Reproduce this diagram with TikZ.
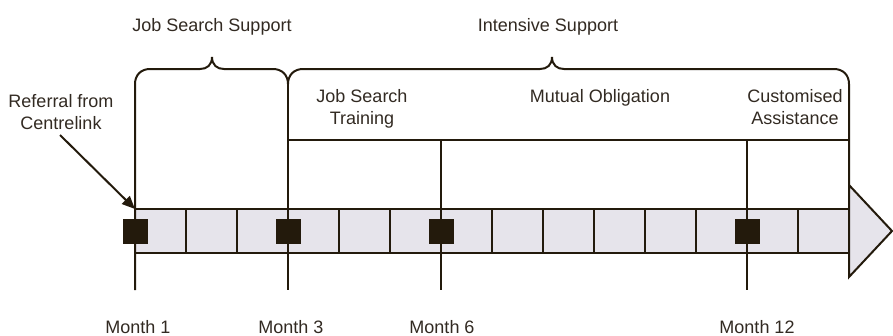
\documentclass[tikz,border=0pt]{standalone}
\usepackage{fontspec}
\setmainfont{Liberation Sans}
\usetikzlibrary{arrows.meta}
\definecolor{ink}{RGB}{35,26,12}
\definecolor{txt}{RGB}{50,42,34}
\definecolor{barfill}{RGB}{230,228,235}
\tikzset{
  lbl/.style={font=\fontsize{18}{22}\selectfont, text=txt, inner sep=0pt, anchor=base, align=center},
  ln/.style={draw=ink, line width=2pt},
  sq/.style={fill=ink, draw=none, minimum size=25pt, inner sep=0pt},
}
\begin{document}
\begin{tikzpicture}[x=1pt,y=-1pt]
\useasboundingbox (0,0) rectangle (893,335);
% bar and arrow head
\path[ln, fill=barfill, line join=miter] (849,185) -- (892,231) -- (849,277) -- cycle;
\path[ln, fill=barfill] (135,209) rectangle (849,253);
\foreach \i in {1,...,13} { \draw[ln] ({135+51*\i},209) -- ({135+51*\i},253); }
% coordinates
\coordinate (corner) at (135,209);
% braces and month lines
\draw[ln] (135,290) -- (135,84) .. controls (135,75) and (141,69) .. (150,69) -- (200,69)
  .. controls (207,69) and (212,65) .. (212,57) .. controls (212,65) and (217,69) .. (224,69)
  -- (273,69) .. controls (282,69) and (288,75) .. (288,84)
  .. controls (288,75) and (294,69) .. (303,69) -- (540,69)
  .. controls (547,69) and (552,65) .. (552,57) .. controls (552,65) and (557,69) .. (564,69)
  -- (834,69) .. controls (843,69) and (849,75) .. (849,84) -- (849,185);
\draw[ln] (288,84) -- (288,290);
\draw[ln] (288,140) -- (849,140);
\draw[ln] (441,140) -- (441,290);
\draw[ln] (747,140) -- (747,290);
% squares
\node[sq] (sq1) at (135,231.5) {};
\node[sq] (sq3) at (288,231.5) {};
\node[sq] (sq6) at (441,231.5) {};
\node[sq] (sq12) at (747,231.5) {};
% labels
\node[lbl] (jss) at (212,31) {Job Search Support};
\node[lbl] (is) at (548,31) {Intensive Support};
\node[lbl] (ref) at (61,129) {Referral from\\Centrelink};
\node[lbl] (jst) at (362,124) {Job Search\\Training};
\node[lbl] (mo) at (600,102) {Mutual Obligation};
\node[lbl] (ca) at (795,124) {Customised\\Assistance};
\node[lbl] (m1) at (138,333) {Month 1};
\node[lbl] (m3) at (291,333) {Month 3};
\node[lbl] (m6) at (442,333) {Month 6};
\node[lbl] (m12) at (757,333) {Month 12};
% referral arrow
\coordinate (refstart) at (60,135);
\draw[ln, -{Triangle[length=13pt,width=11pt]}] (refstart) -- (corner);
\end{tikzpicture}
\end{document}
